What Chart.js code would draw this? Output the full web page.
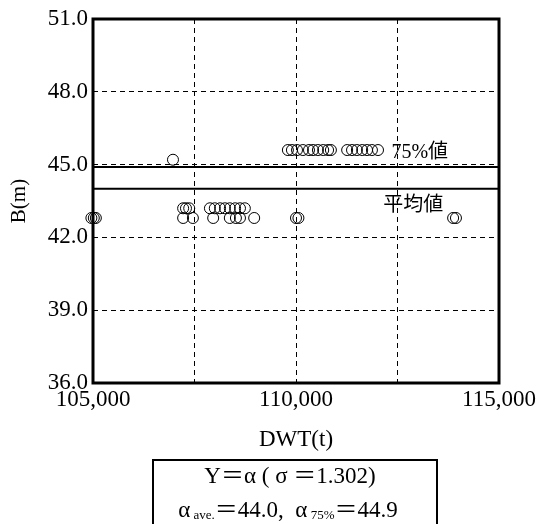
<!DOCTYPE html>
<html>
<head>
<meta charset="utf-8">
<script src="https://cdn.jsdelivr.net/npm/chart.js@4.4.0/dist/chart.umd.min.js"></script>
<style>
  html, body { margin: 0; padding: 0; background: #fff; }
</style>
</head>
<body>
<canvas id="dwt_chart" width="536" height="524"></canvas>
<script>
// Ship data: DWT (t) vs breadth B (m)
const dwtRow456 = [109800, 109900, 110025, 110170, 110320, 110420, 110540, 110670, 110790, 110860,
                   111260, 111380, 111500, 111630, 111750, 111870, 112020];
const dwtRow452 = [106970];
const dwtRow432 = [107220, 107290, 107370, 107880, 108000, 108130, 108250, 108370, 108500, 108620, 108740];
const dwtRow428 = [104960, 105020, 105070, 107220, 107460, 107960, 108370, 108520, 108620, 108970,
                   110000, 110060, 113870, 113940];
const beamRows = [45.6, 45.2, 43.2, 42.8];

const meanB = 44.0;
const p75B = 44.9;
const sigma = 1.302;

const xTicks = [105000, 110000, 115000];
const yTicks = [36.0, 39.0, 42.0, 45.0, 48.0, 51.0];

const serif = '"Liberation Serif", "Noto Sans CJK JP", serif';

function rowPoints(xs, b) {
    return xs.map(v => ({ x: v, y: b }));
}

const points = [
    ...rowPoints(dwtRow456, beamRows[0]),
    ...rowPoints(dwtRow452, beamRows[1]),
    ...rowPoints(dwtRow432, beamRows[2]),
    ...rowPoints(dwtRow428, beamRows[3])
];

// draw runs of text with mixed font sizes, centered at cx
function drawRuns(ctx, runs, cx, cy) {
    let total = 0;
    runs.forEach(r => { ctx.font = r.f; r.w = ctx.measureText(r.t).width; total += r.w; });
    let xpos = cx - total / 2;
    runs.forEach(r => {
        ctx.font = r.f;
        ctx.fillText(r.t, xpos, cy + (r.dy || 0));
        xpos += r.w;
    });
}

const notesPlugin = {
    id: 'notes',
    afterDraw(chart) {
        const { ctx, chartArea: a, scales: { x, y } } = chart;
        ctx.save();
        ctx.strokeStyle = '#000';
        ctx.fillStyle = '#000';
        ctx.lineWidth = 3;
        ctx.strokeRect(a.left, a.top, a.right - a.left, a.bottom - a.top);

        ctx.textBaseline = 'middle';
        ctx.textAlign = 'left';
        ctx.font = '20px ' + serif;
        ctx.fillText('75%値', x.getPixelForValue(112350), y.getPixelForValue(p75B) - 14);
        ctx.fillText('平均値', x.getPixelForValue(112150), y.getPixelForValue(meanB) + 17);

        // formula box under the chart
        ctx.lineWidth = 2;
        ctx.strokeRect(153, 460, 284, 70);
        const big = '23px ' + serif;
        const small = '13px ' + serif;
        drawRuns(ctx, [
            { t: 'Y＝α ( σ ＝' + sigma.toFixed(3) + ')', f: big }
        ], 290, 477);
        drawRuns(ctx, [
            { t: 'α', f: big },
            { t: ' ave.', f: small, dy: 5 },
            { t: '＝' + meanB.toFixed(1) + ',  α', f: big },
            { t: ' 75%', f: small, dy: 5 },
            { t: '＝' + p75B.toFixed(1), f: big }
        ], 288, 511);
        ctx.restore();
    }
};

new Chart(document.getElementById('dwt_chart'), {
    type: 'scatter',
    data: {
        datasets: [
            {
                label: 'B',
                data: points,
                showLine: false,
                pointStyle: 'circle',
                pointRadius: 5.5,
                pointBorderWidth: 1,
                pointBorderColor: '#000',
                pointBackgroundColor: 'rgba(0,0,0,0)',
                clip: false
            },
            {
                label: 'mean',
                type: 'line',
                data: [{ x: 105000, y: meanB }, { x: 115000, y: meanB }],
                borderColor: '#000',
                borderWidth: 2,
                pointRadius: 0
            },
            {
                label: '75%',
                type: 'line',
                data: [{ x: 105000, y: p75B }, { x: 115000, y: p75B }],
                borderColor: '#000',
                borderWidth: 2,
                pointRadius: 0
            }
        ]
    },
    options: {
        responsive: false,
        animation: false,
        layout: { padding: { left: 0, top: 19, right: 37, bottom: 69 } },
        plugins: { legend: { display: false }, tooltip: { enabled: false } },
        scales: {
            x: {
                type: 'linear',
                min: 105000,
                max: 115000,
                afterBuildTicks: scale => {
                    scale.ticks = [105000, 107500, 110000, 112500, 115000].map(v => ({ value: v }));
                },
                afterFit: scale => {
                    scale.height = 72;
                    scale.paddingLeft = 0;
                    scale.paddingRight = 0;
                },
                ticks: {
                    autoSkip: false,
                    maxRotation: 0,
                    padding: 3,
                    color: '#000',
                    font: { family: serif, size: 23 },
                    callback: v => xTicks.includes(v) ? v.toLocaleString('en-US') : ''
                },
                grid: { color: '#000', lineWidth: 1, drawTicks: false },
                border: { display: false, dash: [5, 4] },
                title: {
                    display: true,
                    text: 'DWT(t)',
                    color: '#000',
                    font: { family: serif, size: 23 },
                    padding: { top: 0, bottom: 1 }
                }
            },
            y: {
                min: 36,
                max: 51,
                afterBuildTicks: scale => {
                    scale.ticks = yTicks.map(v => ({ value: v }));
                },
                afterFit: scale => {
                    scale.width = 93;
                    scale.paddingTop = 0;
                    scale.paddingBottom = 0;
                },
                ticks: {
                    padding: 5,
                    color: '#000',
                    font: { family: serif, size: 23 },
                    callback: v => v.toFixed(1)
                },
                grid: { color: '#000', lineWidth: 1, drawTicks: false },
                border: { display: false, dash: [5, 4] },
                title: {
                    display: true,
                    text: 'B(m)',
                    color: '#000',
                    font: { family: serif, size: 21 },
                    padding: { top: 7, bottom: 0 }
                }
            }
        }
    },
    plugins: [notesPlugin]
});
</script>
</body>
</html>
